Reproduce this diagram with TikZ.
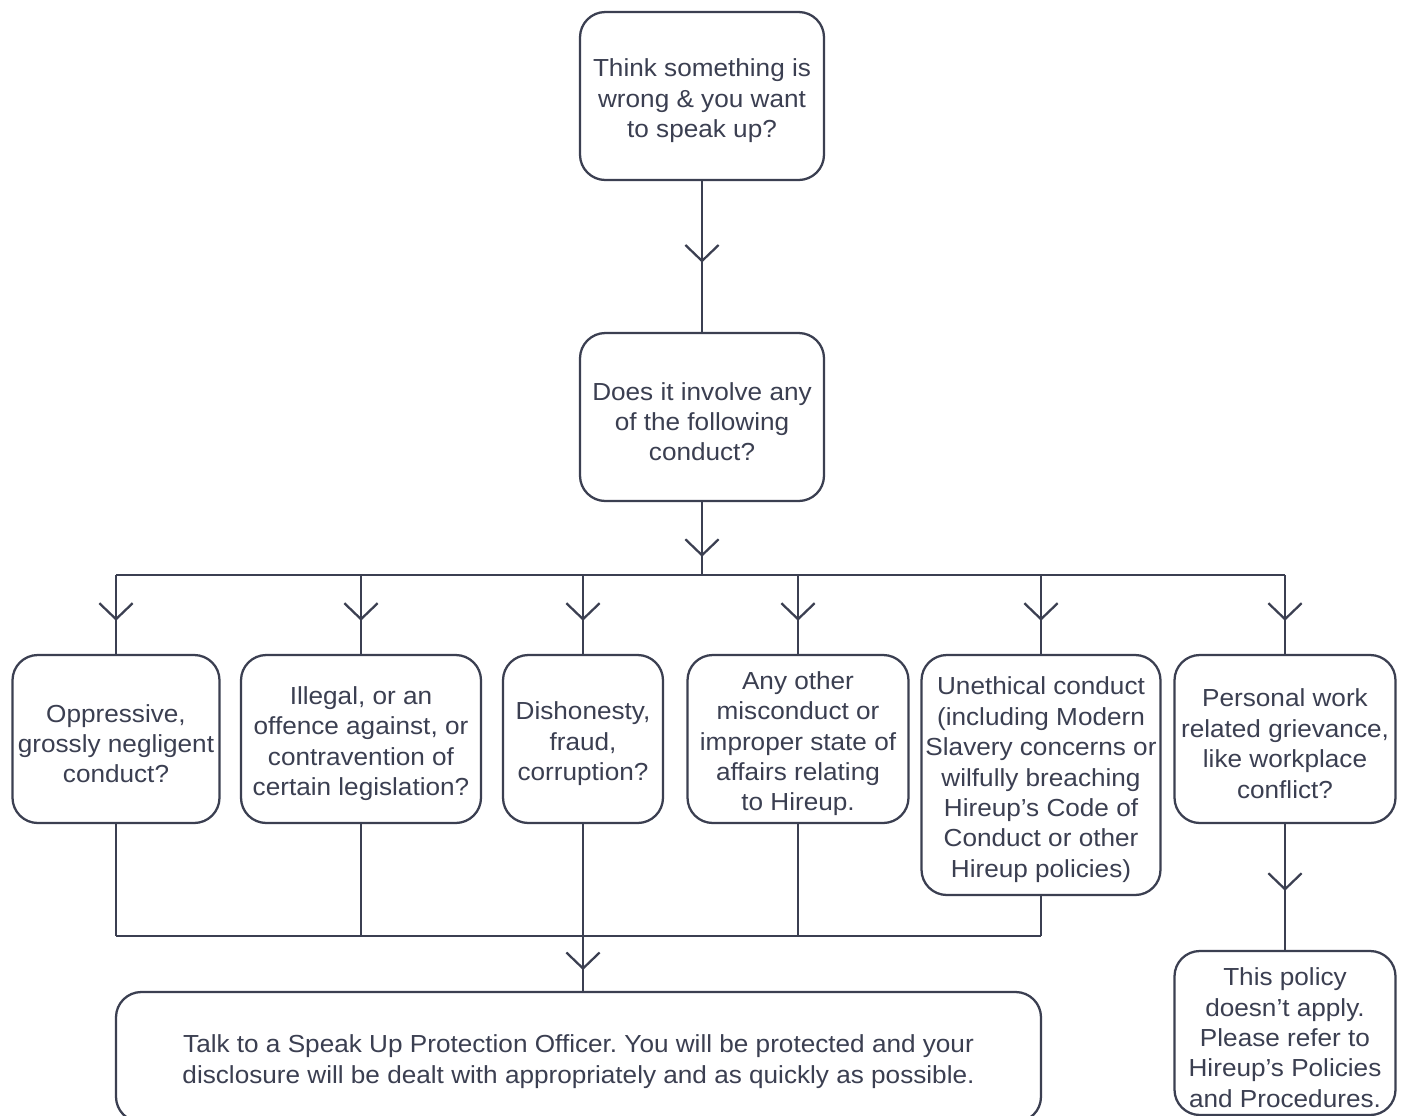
\documentclass[tikz,border=0pt]{standalone}
\usepackage{fontspec}
\setmainfont{Liberation Sans}[FakeStretch=1.06]
\usetikzlibrary{arrows.meta,decorations.markings}
\definecolor{ink}{HTML}{3B3F51}
\frenchspacing
\newcommand\fstrut{\rule{0pt}{20.5pt}}
\tikzset{
  box/.style={draw=ink, line width=1.7pt, rounded corners=19pt, align=center, inner sep=0pt,
    text=ink, font=\fontsize{18.5}{22.8}\selectfont},
  conn/.style={draw=ink, line width=1.7pt},
  midarrow/.style={conn, postaction={decorate}, decoration={markings,
    mark=at position #1 with {\arrow{Straight Barb[length=12pt,width=25pt,line width=1.7pt]}}}}
}
\begin{document}
\begin{tikzpicture}[x=0.75pt,y=-0.75pt]
\clip (0,0) rectangle (1402,1115);
\fill[white] (0,0) rectangle (1402,1115);
\node[box, minimum width=183pt, minimum height=126pt] (b1) at (702,96) {\fstrut Think something is\\wrong \& you want\\to speak up?};
\node[box, minimum width=183pt, minimum height=126pt] (b2) at (702,417) {\fstrut Does it involve any\\of the following\\conduct?};
\coordinate (bus) at (702,575);
\node[box, minimum width=155.25pt, minimum height=126pt] (c1) at (116,739) {\fstrut Oppressive,\\grossly negligent\\conduct?};
\node[box, minimum width=180pt, minimum height=126pt] (c2) at (361,739) {\fstrut Illegal, or an\\offence against, or\\contravention of\\certain legislation?};
\node[box, minimum width=120pt, minimum height=126pt] (c3) at (583,739) {\fstrut Dishonesty,\\fraud,\\corruption?};
\node[box, minimum width=165.75pt, minimum height=126pt] (c4) at (798,739) {\fstrut Any other\\misconduct or\\improper state of\\affairs relating\\to Hireup.};
\node[box, minimum width=179.25pt, minimum height=180pt] (c5) at (1041,775) {\fstrut Unethical conduct\\(including Modern\\Slavery concerns or\\wilfully breaching\\Hireup’s Code of\\Conduct or other\\Hireup policies)};
\node[box, minimum width=165.75pt, minimum height=126pt] (c6) at (1285,739) {\fstrut Personal work\\related grievance,\\like workplace\\conflict?};
\node[box, minimum width=693.75pt, minimum height=97.5pt] (d1) at (578.5,1057) {\fstrut Talk to a Speak Up Protection Officer. You will be protected and your\\disclosure will be dealt with appropriately and as quickly as possible.};
\node[box, minimum width=165.75pt, minimum height=123pt] (d2) at (1285,1033) {\fstrut This policy\\doesn’t apply.\\Please refer to\\Hireup’s Policies\\and Procedures.};
\coordinate (bus2) at (583,936);
% connectors
\draw[midarrow=0.54] (b1) -- (b2);
\draw[midarrow=0.75] (b2) -- (bus);
\draw[conn] (c1.north |- bus) -- (c6.north |- bus);
\foreach \c in {c1,c2,c3,c4,c5,c6}{
  \draw[midarrow=0.58] (\c.north |- bus) -- (\c.north);
}
\foreach \c in {c1,c2,c3,c4,c5}{
  \draw[conn] (\c.south) -- (\c.south |- bus2);
}
\draw[conn] (c1.south |- bus2) -- (c5.south |- bus2);
\draw[midarrow=0.62] (bus2) -- (bus2 |- d1.north);
\draw[midarrow=0.53] (c6) -- (d2);
\end{tikzpicture}
\end{document}
